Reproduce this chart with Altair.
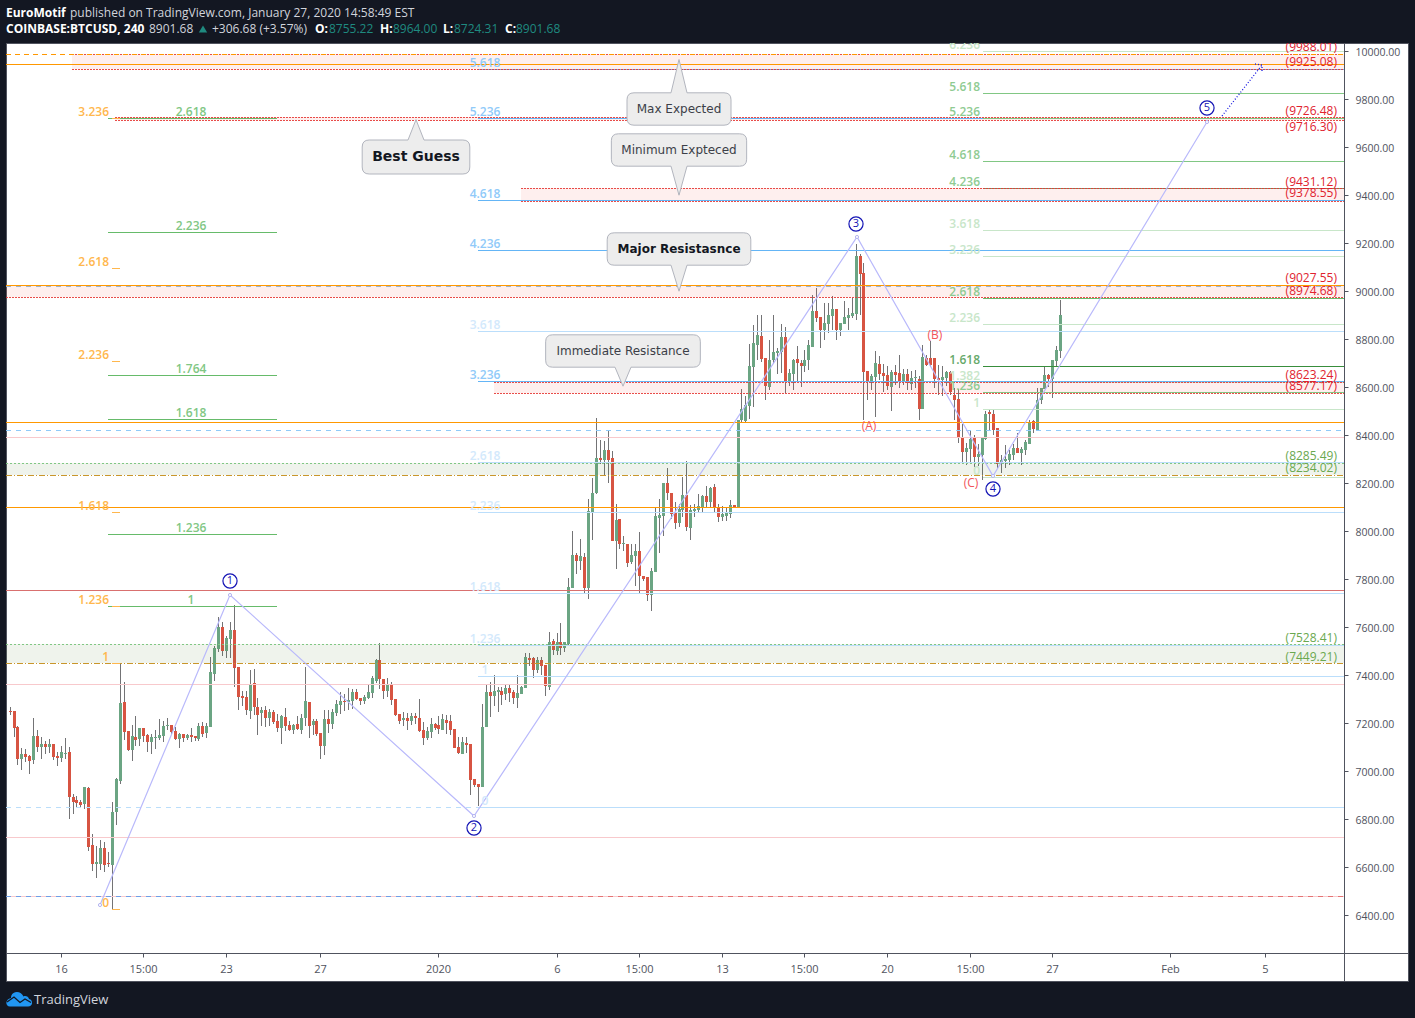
import altair as alt
import pandas as pd

# ---- candle values (4h bars, index -1 .. 266) ----
opens = [
7250,7250,7183,7050,7071,7062,7046,7146,7100,7112,
7100,7112,7062,7054,7071,7079,6891,6879,6870,6862,
6929,6691,6612,6612,6679,6616,6608,6829,6958,7287,
7167,7087,7141,7133,7179,7150,7121,7137,7137,7146,
7187,7191,7167,7133,7154,7137,7150,7146,7133,7187,
7158,7183,7404,7511,7602,7500,7550,7588,7434,7313,
7309,7250,7367,7267,7242,7255,7221,7246,7209,7180,
7225,7192,7171,7196,7171,7221,7288,7192,7209,7159,
7105,7217,7196,7242,7275,7292,7288,7292,7330,7305,
7292,7305,7326,7376,7463,7384,7334,7363,7301,7238,
7213,7221,7209,7230,7221,7171,7138,7163,7196,7192,
7171,7213,7209,7175,7100,7071,7117,7113,6967,6946,
6934,7184,7330,7313,7330,7334,7322,7347,7330,7305,
7322,7347,7472,7472,7422,7463,7443,7351,7543,7501,
7539,7513,7530,7764,7901,7876,7893,7764,8081,8160,
8306,8297,8339,8306,7960,8051,7947,7947,7872,7897,
7918,7814,7810,7735,7830,8056,8064,8202,8160,8077,
8035,8089,8152,8014,8085,8089,8102,8147,8122,8185,
8102,8060,8064,8072,8110,8102,8465,8461,8523,8686,
8777,8815,8723,8602,8715,8744,8748,8811,8627,8657,
8719,8702,8690,8715,8769,8919,8894,8840,8865,8898,
8928,8840,8865,8890,8898,8907,9149,9078,8669,8623,
8644,8698,8661,8652,8602,8664,8660,8623,8656,8614,
8639,8635,8510,8723,8723,8723,8639,8631,8639,8664,
8568,8552,8393,8331,8343,8389,8310,8317,8385,8498,
8489,8431,8281,8293,8297,8318,8347,8327,8339,8364,
8460,8423,8548,8593,8652,8635,8710,8752]
highs = [
7268,7250,7187,7096,7091,7066,7221,7171,7141,7125,
7133,7112,7079,7104,7137,7100,6904,6895,6879,6933,
6933,6737,6687,6712,6704,6662,6870,6970,7449,7371,
7167,7191,7229,7179,7179,7154,7154,7171,7217,7208,
7221,7191,7183,7158,7154,7154,7179,7146,7200,7204,
7200,7475,7521,7643,7623,7563,7623,7692,7434,7334,
7334,7421,7426,7305,7267,7271,7259,7255,7238,7234,
7263,7209,7196,7230,7238,7434,7288,7217,7217,7159,
7255,7255,7259,7296,7330,7321,7346,7342,7342,7305,
7317,7359,7396,7467,7534,7384,7388,7371,7301,7238,
7246,7242,7242,7242,7301,7205,7184,7221,7200,7230,
7238,7234,7234,7175,7142,7142,7142,7113,6967,6946,
7280,7363,7372,7401,7351,7351,7363,7359,7338,7401,
7355,7493,7493,7476,7476,7476,7443,7580,7551,7576,
7618,7539,7805,8001,7910,7968,7910,8135,8222,8473,
8381,8377,8418,8335,8114,8051,7980,7947,7947,7947,
7997,7814,7810,7847,8097,8135,8202,8264,8160,8122,
8114,8227,8293,8110,8114,8156,8152,8189,8185,8197,
8114,8106,8097,8131,8110,8464,8594,8562,8782,8861,
8903,8903,8723,8798,8903,8764,8865,8852,8677,8719,
8773,8715,8757,8798,8986,9015,8894,8953,8953,8982,
8928,8869,8961,8932,8973,9199,9157,9119,8669,8657,
8752,8732,8698,8690,8673,8694,8735,8677,8677,8668,
8673,8648,8777,8735,8794,8723,8694,8689,8668,8668,
8596,8593,8447,8367,8422,8402,8364,8389,8502,8506,
8506,8431,8318,8360,8339,8364,8409,8353,8381,8464,
8464,8598,8598,8689,8656,8714,8773,8964]
lows = [
7233,7141,7025,7004,7037,6990,7029,7079,7050,7071,
7075,7046,7021,7037,7050,6800,6820,6845,6845,6841,
6666,6583,6553,6587,6579,6599,6427,6775,6945,7129,
7083,7041,7104,7104,7121,7079,7071,7091,7129,7121,
7171,7154,7129,7096,7121,7129,7121,7125,7125,7141,
7137,7183,7375,7497,7479,7470,7470,7352,7255,7271,
7234,7217,7234,7150,7188,7184,7188,7196,7163,7113,
7167,7167,7155,7171,7155,7188,7138,7150,7146,7050,
7067,7159,7175,7230,7238,7251,7255,7259,7296,7275,
7280,7301,7305,7367,7342,7301,7309,7275,7230,7196,
7188,7171,7192,7196,7163,7109,7130,7138,7171,7155,
7171,7155,7150,7096,7071,7071,7075,6900,6934,6854,
6934,7184,7226,7272,7247,7276,7297,7288,7280,7263,
7322,7347,7438,7388,7409,7401,7313,7338,7484,7484,
7484,7497,7526,7764,7822,7839,7739,7718,7964,8156,
8281,8231,8202,7960,7843,7926,7918,7851,7864,7772,
7743,7793,7710,7668,7830,7910,7981,8131,8051,8010,
8018,8060,8001,7964,8060,8076,8081,8097,8097,8081,
8039,8043,8043,8056,8095,8102,8456,8456,8469,8520,
8712,8707,8548,8590,8698,8657,8660,8577,8607,8590,
8623,8602,8665,8673,8769,8873,8765,8798,8827,8840,
8798,8815,8865,8840,8890,8882,8900,8465,8548,8590,
8477,8632,8581,8590,8502,8610,8598,8610,8589,8589,
8598,8464,8510,8687,8684,8598,8568,8564,8606,8568,
8464,8367,8289,8277,8289,8268,8272,8214,8381,8423,
8402,8263,8242,8263,8277,8297,8325,8277,8318,8364,
8410,8423,8531,8593,8603,8556,8686,8723]
closes = [
7245,7179,7050,7071,7058,7041,7146,7100,7112,7100,
7112,7058,7054,7079,7075,6891,6870,6866,6858,6933,
6683,6612,6620,6679,6608,6612,6829,6966,7283,7162,
7087,7146,7129,7179,7146,7121,7141,7141,7150,7187,
7191,7162,7133,7154,7137,7150,7141,7137,7187,7154,
7187,7413,7513,7602,7500,7554,7588,7432,7309,7305,
7255,7363,7267,7234,7255,7221,7246,7205,7180,7230,
7188,7171,7192,7175,7221,7292,7188,7209,7155,7105,
7217,7196,7246,7280,7292,7288,7296,7330,7301,7292,
7309,7330,7388,7463,7384,7334,7359,7296,7234,7209,
7221,7209,7230,7221,7167,7138,7167,7196,7180,7175,
7217,7200,7171,7096,7075,7121,7109,6963,6942,6934,
7184,7330,7313,7334,7338,7317,7347,7326,7305,7326,
7351,7476,7463,7422,7463,7438,7355,7539,7505,7539,
7513,7539,7768,7901,7876,7897,7764,8085,8160,8306,
8297,8339,8297,7960,8047,7947,7952,7868,7901,7918,
7814,7801,7735,7835,8064,8068,8202,8160,8072,8035,
8093,8152,8018,8089,8093,8106,8147,8122,8181,8102,
8060,8072,8077,8110,8102,8464,8509,8527,8690,8786,
8819,8719,8606,8715,8748,8752,8811,8627,8661,8715,
8702,8690,8715,8777,8919,8890,8840,8869,8902,8928,
8840,8869,8894,8902,8911,9149,9073,8665,8623,8648,
8702,8657,8648,8606,8665,8652,8623,8656,8618,8639,
8644,8510,8727,8694,8694,8635,8631,8644,8664,8581,
8548,8389,8331,8348,8385,8310,8322,8389,8489,8489,
8423,8281,8297,8302,8322,8347,8327,8343,8372,8456,
8427,8548,8598,8652,8635,8714,8756,8902]
bar_index = list(range(-1, 267))

# ---- axis ticks ----
price_ticks = list(range(6400, 10001, 200))
time_tick_pos = [12, 33, 54, 78, 108, 138, 159, 180, 201, 222, 243, 264, 294, 318]
time_tick_txt = ["16", "15:00", "23", "27", "2020", "6", "15:00", "13", "15:00", "20", "15:00", "27", "Feb", "5"]

# ---- wave count ----
wave_k = [22.0, 55.0, 117.1, 214.3, 249.0, 303.2]
wave_p = [6444, 7736, 6815, 9226, 8232, 9706]
wave_names = ["1", "2", "3", "4", "5"]
wave_name_k = [55.1, 117.0, 214.2, 249.0, 303.2]
wave_name_p = [7794, 6762, 9282, 8178, 9763]
abc_names = ["(A)", "(B)", "(C)"]
abc_k = [217.3, 234.1, 243.2]
abc_p = [8437, 8819, 8203]

# ---- level prices ----
orange_solid = [9948, 9027.55, 8454, 8100]
orange_dash = [9988]
orange_dashdot = [8234.02, 7449.21]
pink_solid = [8392, 7365, 6727, 6481]
blue_dash = [8421]
grey_dash = [9022]
low_dash = [6481]
red_solid = [7756]

orange_fib_txt = ["3.236", "2.618", "2.236", "1.618", "1.236", "1", "0"]
orange_fib_p = [9724, 9098, 8710, 8080, 7688, 7449, 6427]
left_green_txt = ["2.618", "2.236", "1.764", "1.618", "1.236", "1"]
left_green_p = [9724, 9247, 8650, 8467, 7987, 7690]
blue_txt = ["5.618", "5.236", "4.618", "4.236", "3.618", "3.236", "2.618", "2.236", "1.618", "1.236", "1", "0"]
blue_p = [9927, 9723, 9380, 9172, 8834, 8625, 8287, 8079, 7741, 7528, 7397, 6851]
blue_strong = ["5.618", "5.236", "4.618", "4.236", "3.236"]
right_green_txt = ["6.236", "5.618", "5.236", "4.618", "4.236", "3.618", "3.236", "2.618", "2.236", "1.618", "1.382", "1.236", "1", "0"]
right_green_p = [10002, 9827, 9724, 9543, 9429, 9255, 9147, 8972, 8863, 8688, 8622, 8579, 8509, 8225]
right_green_pale = ["6.236", "3.618", "3.236", "2.236", "1.382", "1", "0"]
right_green_dark = {"1.618": "#388e3c", "2.618": "#66bb6a", "4.236": "#6a9f6c"}

red_zone_top = [9988.01, 9726.48, 9431.12, 9027.55, 8623.24]
red_zone_bot = [9925.08, 9716.30, 9378.55, 8974.68, 8577.17]
red_zone_start = [14.9, 25.8, 129.0, -1.9, 122.1]
green_zone_top = [8285.49, 7528.41]
green_zone_bot = [8234.02, 7449.21]

red_tags = ["(9988.01)", "(9925.08)", "(9726.48)", "(9716.30)", "(9431.12)", "(9378.55)", "(9027.55)", "(8974.68)", "(8623.24)", "(8577.17)"]
red_tag_p = [10020, 9955, 9753, 9686, 9455, 9409, 9056, 9002, 8652, 8606]
green_tags = ["(8285.49)", "(8234.02)", "(7528.41)", "(7449.21)"]
green_tag_p = [8315, 8264, 7557, 7475]

callout_txt = ["Best Guess", "Max Expected", "Minimum Expteced", "Major Resistasnce", "Immediate Resistance"]
callout_k = [102.2, 169.2, 169.2, 169.2, 155.0]
callout_p = [9560, 9759, 9588, 9175, 8750]

# ---- frame ----
XL, XR = -1.9, 338.1
xs = alt.Scale(domain=[-1.906, 354.38], round=True, nice=False, zero=False, padding=0)
ys = alt.Scale(domain=[6125.4, 10035.4], round=True, nice=False, zero=False, padding=0)
BG = "#131722"
AX = "#50535e"
FONT = "Open Sans"

label_map = ",".join(f"'{p}':'{t}'" for p, t in zip(time_tick_pos, time_tick_txt))
x_axis = alt.Axis(orient="bottom", offset=-28, values=time_tick_pos, labelExpr="{" + label_map + "}[datum.value]",
                  grid=False, title=None, domainColor=AX, tickColor=AX, tickSize=4, labelColor=AX, labelFont=FONT,
                  labelFontSize=11, labelPadding=6, labelOverlap=False, labelFlush=False, labelBound=False)
y_axis = alt.Axis(orient="right", offset=-64, values=price_ticks, format=".2f", grid=False, title=None,
                  domainColor=AX, tickColor=AX, tickSize=4, labelColor=AX, labelFont=FONT, labelFontSize=10.5,
                  labelPadding=7, labelOffset=1, labelOverlap=False, labelFlush=False, labelBound=False)


def X(f="k"):
    return alt.X(f, type="quantitative", scale=xs, axis=x_axis)


def Y(f="p"):
    return alt.Y(f, type="quantitative", scale=ys, axis=y_axis)


def X2(f):
    return alt.X2(f)


def Y2(f):
    return alt.Y2(f)


def hlines(prices, x0, x1, color, dash=None, width=1, opacity=1):
    df = pd.DataFrame({"p": prices, "x0": x0, "x1": x1})
    kw = {"strokeDash": dash} if dash else {}
    return alt.Chart(df).mark_rule(color=color, strokeWidth=width, opacity=opacity, yOffset=0.5, **kw).encode(
        x=X("x0"), x2=X2("x1"), y=Y("p"))


def texts(labels, ks, ps, color, size=12, align="center", dy=0, weight="normal", font=FONT, clip=False, opacity=1):
    df = pd.DataFrame({"t": labels, "k": ks, "p": ps})
    return alt.Chart(df).mark_text(color=color, fontSize=size, align=align, baseline="middle", dy=dy,
                                   fontWeight=weight, font=font, clip=clip, opacity=opacity).encode(
        x=X("k"), y=Y("p"), text="t:N")


def callout_path(w, h, r, up, tip, hw=8):
    x0, x1, y0, y1 = -w / 2, w / 2, -h / 2, h / 2
    s = f"M{x0 + r},{y0}"
    if up:
        s += f"L{-hw},{y0}L0,{y0 - tip}L{hw},{y0}"
    s += f"L{x1 - r},{y0}Q{x1},{y0} {x1},{y0 + r}L{x1},{y1 - r}Q{x1},{y1} {x1 - r},{y1}"
    if not up:
        s += f"L{hw},{y1}L0,{y1 + tip}L{-hw},{y1}"
    s += f"L{x0 + r},{y1}Q{x0},{y1} {x0},{y1 - r}L{x0},{y0 + r}Q{x0},{y0} {x0 + r},{y0}Z"
    return s


layers = []

# ---- candles ----
candles = pd.DataFrame({"k": bar_index, "o": opens, "h": highs, "l": lows, "c": closes})
candles["col"] = ["#6ba583" if c >= o else "#d75442" for o, c in zip(opens, closes)]
layers.append(alt.Chart(candles).mark_rule(color="#737375", strokeWidth=1, xOffset=0.5).encode(
    x=X("k"), y=Y("l"), y2=Y2("h")))
layers.append(alt.Chart(candles).mark_bar(size=3, xOffset=0.5, orient="vertical").encode(
    x=X("k"), y=Y("o"), y2=Y2("c"), color=alt.Color("col:N", scale=None)))

# ---- zones ----
rz = pd.DataFrame({"x0": red_zone_start, "x1": XR, "a": red_zone_top, "b": red_zone_bot})
gz = pd.DataFrame({"x0": XL, "x1": XR, "a": green_zone_top, "b": green_zone_bot})
layers.append(alt.Chart(rz).mark_rect(color="#f44336", opacity=0.085).encode(x=X("x0"), x2=X2("x1"), y=Y("a"), y2=Y2("b")))
layers.append(alt.Chart(gz).mark_rect(color="#4a7c2c", opacity=0.09).encode(x=X("x0"), x2=X2("x1"), y=Y("a"), y2=Y2("b")))

# ---- levels ----
layers.append(hlines(pink_solid, XL, XR, "#f8c9cc"))
layers.append(hlines(blue_dash, XL, XR, "#90caf9", [5, 5]))
layers.append(hlines(low_dash, XL, 118.0, "#6f9fe6", [5, 5]))
layers.append(hlines(low_dash, 118.0, XR, "#e57373", [5, 5]))
layers.append(hlines(red_solid, XL, XR, "#d9706f"))
layers.append(hlines([blue_p[-1]], XL, 118.0, "#bbdefb", [5, 5]))
for t, p in zip(blue_txt, blue_p):
    layers.append(hlines([p], 118.0, XR, "#64b5f6" if t in blue_strong else "#bbdefb"))
for t, p in zip(right_green_txt, right_green_p):
    col = right_green_dark.get(t, "#c8e6c9" if t in right_green_pale else "#81c784")
    layers.append(hlines([p], 246.4, XR, col))
layers.append(hlines(left_green_p, 24.1, 67.0, "#66bb6a"))
for s, a, b in zip(red_zone_start, red_zone_top, red_zone_bot):
    layers.append(hlines([a, b], s, XR, "#e53935", [2, 1], opacity=0.9))
layers.append(hlines(green_zone_top, XL, XR, "#81c784", [2, 2]))
layers.append(hlines(grey_dash, XL, XR, "#9db6cc", [5, 5]))
layers.append(hlines(orange_solid, XL, XR, "#ff9800"))
layers.append(hlines(orange_dash, XL, XR, "#ff9800", [5, 4]))
layers.append(hlines(orange_dashdot, XL, XR, "#c9962b", [6, 2, 1, 2]))
layers.append(hlines(orange_fib_p, 25.0, 27.1, "#ffb74d"))

# ---- wave lines ----
wave = pd.DataFrame({"k": wave_k, "p": wave_p, "i": range(len(wave_k))})
layers.append(alt.Chart(wave).mark_line(color="#b9b9fb", strokeWidth=1.2).encode(x=X("k"), y=Y("p"), order="i:Q"))
layers.append(alt.Chart(wave).mark_point(filled=True, fill="#ffffff", stroke="#b4b4f0", strokeWidth=1, size=10, opacity=1).encode(x=X("k"), y=Y("p")))
arrow = pd.DataFrame({"k": [307.0, 317.4, 315.5, 317.4, 317.4], "p": [9732, 9944, 9948, 9944, 9920], "g": [0, 0, 1, 1, 1], "i": range(5)})
layers.append(alt.Chart(arrow).mark_line(color="#1a1ae0", strokeWidth=1.3, strokeDash=[1, 2]).encode(x=X("k"), y=Y("p"), detail="g:N", order="i:Q"))

# ---- level labels ----
layers.append(texts(orange_fib_txt, [24.3] * 7, orange_fib_p, "#ffb74d", align="right", dy=-6.5, weight=600))
layers.append(texts(left_green_txt, [45.1] * 6, left_green_p, "#81c784", dy=-6.5, weight=600))
for t, p in zip(blue_txt, blue_p):
    layers.append(texts([t], [119.8], [p], "#90caf9" if t in blue_strong else "#d3e9fc", dy=-6.5, weight=600))
for t, p in zip(right_green_txt, right_green_p):
    col = "#c8e6c9" if t in right_green_pale else ("#66a96a" if t == "1.618" else "#8fcb92")
    layers.append(texts([t], [245.6], [p], col, align="right", dy=-6.5, weight=600, clip=True))
layers.append(texts(red_tags, [336.3] * 10, red_tag_p, "#e0222e", align="right", clip=True))
layers.append(texts(green_tags, [336.3] * 4, green_tag_p, "#6aa84f", align="right"))
layers.append(texts(abc_names, abc_k, abc_p, "#f2545b"))

# ---- wave numbers ----
names = pd.DataFrame({"k": wave_name_k, "p": wave_name_p, "t": wave_names})
layers.append(alt.Chart(names).mark_point(filled=True, fill="#ffffff", stroke="#1515b5", strokeWidth=1.2, size=200, opacity=1).encode(x=X("k"), y=Y("p")))
layers.append(texts(wave_names, wave_name_k, wave_name_p, "#1515b5", size=11))

# ---- callouts ----
shapes = [callout_path(107.6, 34, 7, True, 20.3),
          callout_path(104, 32.4, 7, True, 33.3),
          callout_path(135.3, 32.4, 7, False, 29),
          callout_path(143.6, 32.4, 7, False, 26),
          callout_path(154.7, 32.4, 7, False, 19)]
weights = ["bold", "normal", "normal", "bold", "normal"]
sizes = [14, 12, 12, 12, 12]
for t, k, p, sh, w, s in zip(callout_txt, callout_k, callout_p, shapes, weights, sizes):
    one = pd.DataFrame({"k": [k], "p": [p]})
    layers.append(alt.Chart(one).mark_point(shape=sh, size=4, filled=True, fill="#ededed", stroke="#b2b5be",
                                            strokeWidth=1, opacity=1).encode(x=X("k"), y=Y("p")))
    layers.append(texts([t], [k], [p], "#131722" if w == "bold" else "#3c3f48", size=s, weight=w, font="DejaVu Sans"))


# ---- page chrome: header and footer ----
def chrome(txt, x, y, color="#d1d4dc", weight="normal", size=12):
    return alt.Chart(pd.DataFrame({"t": [txt]})).mark_text(color=color, fontWeight=weight, fontSize=size, font=FONT,
                                                           align="left", baseline="middle").encode(
        x=alt.value(x - 6), y=alt.value(y - 43), text="t:N")


TEAL = "#1f8a80"
head = [("EuroMotif", 6, 13, "#ffffff", "bold"),
        ("published on TradingView.com, January 27, 2020 14:58:49 EST", 70, 13, "#d1d4dc", "normal"),
        ("COINBASE:BTCUSD, 240", 6, 29, "#ffffff", "bold"),
        ("8901.68", 149, 29, "#d1d4dc", "normal"),
        ("+306.68 (+3.57%)", 212, 29, "#d1d4dc", "normal"),
        ("O:", 315, 29, "#ffffff", "bold"), ("8755.22", 329, 29, TEAL, "normal"),
        ("H:", 380, 29, "#ffffff", "bold"), ("8964.00", 393, 29, TEAL, "normal"),
        ("L:", 443, 29, "#ffffff", "bold"), ("8724.31", 454, 29, TEAL, "normal"),
        ("C:", 505, 29, "#ffffff", "bold"), ("8901.68", 516, 29, TEAL, "normal")]
for t, x, y, c, w in head:
    layers.append(chrome(t, x, y, c, w))
dummy = pd.DataFrame({"a": [0]})
layers.append(alt.Chart(dummy).mark_point(shape="triangle-up", size=70, filled=True, fill=TEAL, opacity=1).encode(
    x=alt.value(203 - 6), y=alt.value(29 - 43)))
cloud = "M-9,7.5L9,7.5C14,7.5 14.5,1 10,0C9.5,-2.5 6.5,-3.5 4.5,-2.5C3,-6.5 -2,-8.5 -5.5,-6C-7.5,-5 -8,-3 -8,-1C-14,0 -14,7.5 -9,7.5Z"
layers.append(alt.Chart(dummy).mark_point(shape=cloud, size=4, filled=True, fill="#2196f3", strokeWidth=0, opacity=1).encode(
    x=alt.value(19 - 6), y=alt.value(999 - 43)))
zig = "M-12,3L-5,-2L1,3.5L6,0L12,3.5"
layers.append(alt.Chart(dummy).mark_point(shape=zig, size=4, filled=False, stroke=BG, strokeWidth=1.3, opacity=1).encode(
    x=alt.value(19 - 6), y=alt.value(999 - 43)))
layers.append(chrome("TradingView", 34, 1000, "#d1d4dc", "normal", 13))

chart = alt.layer(*layers).properties(
    width=1402, height=938, background=BG,
    padding={"left": 6, "top": 43, "right": 7, "bottom": 37},
    autosize=alt.AutoSizeParams(type="none"),
).configure_view(fill="#ffffff", stroke=AX)

chart.save("out.html", embed_options={"renderer": "svg", "actions": False,
                                      "defaultStyle": "html,body{margin:0;padding:0;background:#131722;overflow:hidden}svg{display:block}"})
